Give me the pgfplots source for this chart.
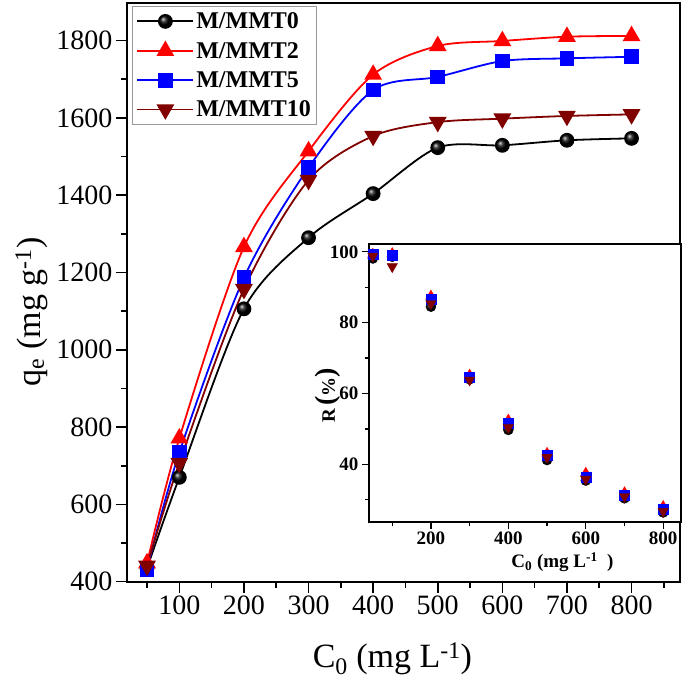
\documentclass[border=0pt]{standalone}
\usepackage{pgfplots}
\pgfplotsset{compat=1.18}
\usepackage{pgfplotstable}
\usepackage{fontspec}
\setmainfont{Liberation Serif}
\definecolor{maroon}{RGB}{128,0,0}
\pgfplotstableread{
x    m0    m2    m5    m10
50   435   448   432   441
100  670   771   734   707
200  1106  1266  1186  1157
300  1290  1514  1471  1439
400  1404  1712  1672  1553
500  1523  1786  1706  1589
600  1529  1799  1747  1598
700  1542  1810  1754  1605
800  1547  1812  1758  1609
}\qe
\pgfplotstableread{
x    m0    m2    m5    m10
50   98.1  99.3  99.3  98.8
100  98.6  99.5  99.1  95.8
200  84.5  87.5  86.6  85.4
300  64.0  65.2  64.7  63.8
400  49.7  52.5  51.6  50.4
500  41.2  43.1  42.6  42.0
600  35.4  37.5  36.3  35.8
700  30.4  32.0  31.4  30.9
800  26.4  28.1  27.3  26.7
}\rem
\begin{document}
\begin{tikzpicture}
\begin{axis}[
  name=main,
  at={(0pt,0pt)}, anchor=south west,
  scale only axis, width=553pt, height=579pt,
  xmin=19, xmax=875, ymin=400, ymax=1898,
  xtick={100,200,...,800}, minor xtick={50,150,...,850},
  ytick={400,600,...,1800}, minor ytick={500,700,...,1700},
  xtick pos=bottom, ytick pos=left,
  tick align=outside,
  major tick length=11pt, minor tick length=6pt,
  every tick/.style={line width=1.6pt, black},
  axis line style={line width=2.2pt},
  /pgf/number format/assume math mode=true,
  /pgf/number format/set thousands separator={},
  ticklabel style={font=\fontsize{28}{30}\selectfont},
  xlabel={C\textsubscript{0} (mg L\textsuperscript{-1})},
  ylabel={q\textsubscript{e} (mg g\textsuperscript{-1})},
  label style={font=\fontsize{34}{38}\selectfont},
  xlabel style={at={(axis description cs:0.48,0)}, anchor=base, yshift=-86pt},
  ylabel style={at={(axis description cs:-0.157,0.466)}, anchor=base},
  legend style={at={(rel axis cs:0.009,0.994)}, anchor=north west,
    draw=gray!80, line width=1pt, font=\bfseries\fontsize{24}{26}\selectfont,
    row sep=8pt, inner sep=4pt},
  legend cell align=left,
  legend image code/.code={\draw[mark repeat=2,mark phase=2] plot coordinates {(0pt,0pt) (28pt,0pt) (56pt,0pt)};},
]
\addplot[black, line width=1.8pt, smooth, mark=ball, mark options={ball color=black}, mark size=6.5pt] table[x=x,y=m0] {\qe};
\addlegendentry{M/MMT0}
\addplot[red, line width=1.8pt, smooth, mark=triangle*, mark size=8.5pt, mark options={fill=red}] table[x=x,y=m2] {\qe};
\addlegendentry{M/MMT2}
\addplot[blue, line width=1.8pt, smooth, mark=square*, mark size=6.5pt, mark options={fill=blue}] table[x=x,y=m5] {\qe};
\addlegendentry{M/MMT5}
\addplot[maroon, line width=1.8pt, smooth, mark=triangle*, mark size=8.5pt, mark options={fill=maroon, rotate=180}] table[x=x,y=m10] {\qe};
\addlegendentry{M/MMT10}
\end{axis}
\begin{axis}[
  at={(242pt,60pt)}, anchor=south west,
  scale only axis, width=312pt, height=277.7pt,
  axis background/.style={fill=white},
  xmin=40, xmax=846, ymin=23.8, ymax=102.2,
  xtick={200,400,600,800}, minor xtick={100,300,500,700},
  ytick={40,60,80,100}, minor ytick={30,50,70,90},
  xtick pos=bottom, ytick pos=left,
  tick align=outside,
  major tick length=7pt, minor tick length=4pt,
  every tick/.style={line width=1.4pt, black},
  axis line style={line width=2pt},
  /pgf/number format/assume math mode=true,
  ticklabel style={font=\bfseries\fontsize{19}{22}\selectfont},
  xlabel={C\textsubscript{0} (mg L\textsuperscript{-1}\ \ )},
  ylabel={R\,{\fontsize{28}{28}\selectfont(}\%{\fontsize{28}{28}\selectfont)}},
  label style={font=\bfseries\fontsize{19}{22}\selectfont},
  xlabel style={at={(axis description cs:0.62,0)}, anchor=base, yshift=-46pt},
  ylabel style={at={(axis description cs:-0.109,0.456)}, anchor=base},
]
\addplot[only marks, mark=ball, mark options={ball color=black}, mark size=5pt] table[x=x,y=m0] {\rem};
\addplot[only marks, red, mark=triangle*, mark size=6pt, mark options={fill=red}] table[x=x,y=m2] {\rem};
\addplot[only marks, blue, mark=square*, mark size=5pt, mark options={fill=blue}] table[x=x,y=m5] {\rem};
\addplot[only marks, maroon, mark=triangle*, mark size=6pt, mark options={fill=maroon, rotate=180}] table[x=x,y=m10] {\rem};
\end{axis}
\pgfresetboundingbox
\useasboundingbox (-127pt,-100.3pt) rectangle (558pt,581.7pt);
\end{tikzpicture}
\end{document}
